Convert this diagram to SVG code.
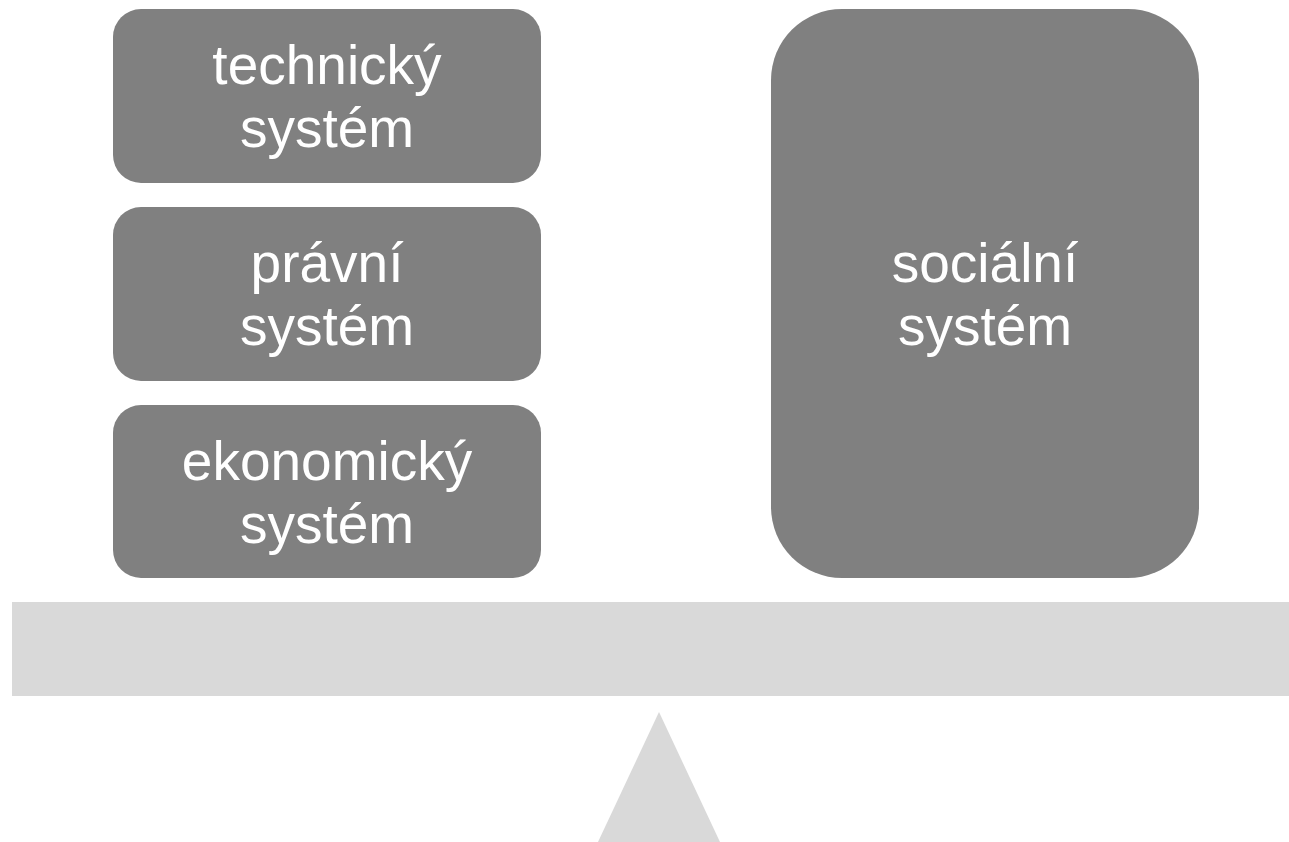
<svg xmlns="http://www.w3.org/2000/svg" width="1289" height="842" viewBox="0 0 1289 842">
<style>
.box{fill:#808080}
.base{fill:#d9d9d9}
.lbl{fill:#ffffff;font-family:"Liberation Sans",Arial,sans-serif;font-size:55px;text-anchor:middle}
</style>
<rect x="0" y="0" width="1289" height="842" fill="#ffffff"/>
<g id="beam"><rect class="base" x="12" y="602" width="1277" height="94"/></g>
<g id="fulcrum"><polygon class="base" points="659,712 720,842 598,842"/></g>
<g id="technicky">
<rect class="box" x="113" y="9" width="428" height="174" rx="28" ry="28"/>
<text class="lbl" x="327" y="84">technický</text>
<text class="lbl" x="327" y="147">systém</text>
</g>
<g id="pravni">
<rect class="box" x="113" y="207" width="428" height="174" rx="28" ry="28"/>
<text class="lbl" x="327" y="282">právní</text>
<text class="lbl" x="327" y="345">systém</text>
</g>
<g id="ekonomicky">
<rect class="box" x="113" y="405" width="428" height="173" rx="28" ry="28"/>
<text class="lbl" x="327" y="480">ekonomický</text>
<text class="lbl" x="327" y="543">systém</text>
</g>
<g id="socialni">
<rect class="box" x="771" y="9" width="428" height="569" rx="71" ry="71"/>
<text class="lbl" x="985" y="282">sociální</text>
<text class="lbl" x="985" y="345">systém</text>
</g>
<g id="connectors"></g>
</svg>
